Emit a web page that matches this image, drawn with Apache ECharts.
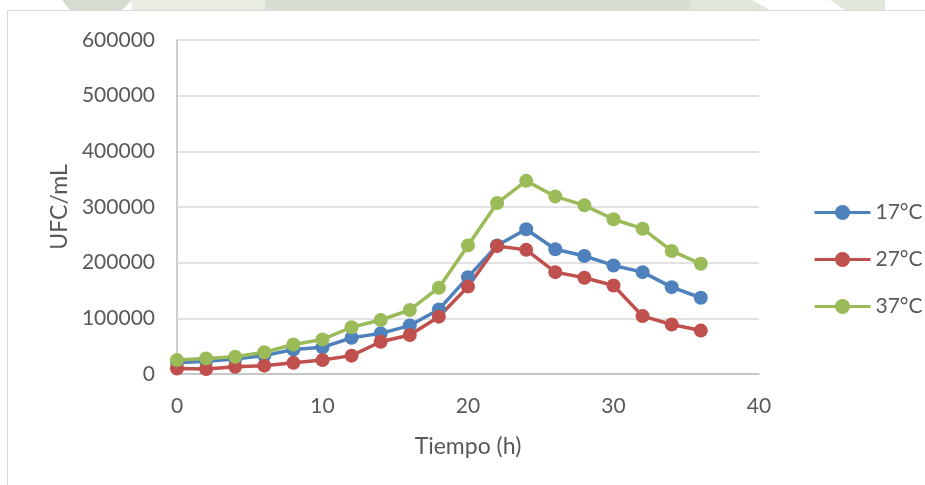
<!DOCTYPE html>
<html>
<head>
<meta charset="utf-8">
<title>UFC/mL vs Tiempo</title>
<script src="https://cdn.jsdelivr.net/npm/echarts@6/dist/echarts.min.js"></script>
<style>
  html, body { margin: 0; padding: 0; background: #ffffff; }
  #chart { width: 925px; height: 485px; }
</style>
</head>
<body>
<div id="chart"></div>
<script>
// Sampling times (h)
const tiempo = [0, 2, 4, 6, 8, 10, 12, 14, 16, 18, 20, 22, 24, 26, 28, 30, 32, 34, 36];

// Counts (UFC/mL) per incubation temperature
const ufc17 = [20000, 23000, 27000, 33000, 44000, 48000, 65000, 73000, 87000, 116000, 174000, 231000, 260000, 224000, 212000, 195000, 183000, 156000, 137000];
const ufc27 = [10000, 9000, 13000, 15000, 20000, 25000, 33000, 58000, 70000, 103000, 157000, 230000, 223000, 183000, 173000, 159000, 104000, 89000, 78000];
const ufc37 = [25000, 28000, 31000, 39000, 53000, 62000, 84000, 97000, 115000, 155000, 231000, 307000, 347000, 319000, 303000, 278000, 261000, 221000, 198000];

const seriesNames = ['17°C', '27°C', '37°C'];
const seriesColors = ['#4F81BD', '#C0504D', '#9BBB59'];
const seriesValues = [ufc17, ufc27, ufc37];

// Axis ranges
const xMin = 0, xMax = 40, xStep = 10;
const yMin = 0, yMax = 600000, yStep = 100000;

const FONT = 'Lato, "Open Sans", sans-serif';
const TEXT = '#595959';

const chart = echarts.init(document.getElementById('chart'), null, { renderer: 'canvas' });

function pairs(xs, ys) {
  return xs.map((x, i) => [x, ys[i]]);
}

const option = {
  backgroundColor: '#ffffff',
  animation: false,
  textStyle: { fontFamily: FONT, color: TEXT },
  graphic: [
    // faint watermark strip above the chart frame
    { type: 'polygon', silent: true, shape: { points: [[62, 0], [132, 0], [122, 10], [70, 10]] }, style: { fill: '#d6dccf' } },
    { type: 'rect', silent: true, shape: { x: 132, y: 0, width: 133, height: 10 }, style: { fill: '#e8ece3' } },
    { type: 'rect', silent: true, shape: { x: 265, y: 0, width: 425, height: 10 }, style: { fill: '#d9ded3' } },
    { type: 'rect', silent: true, shape: { x: 690, y: 0, width: 195, height: 10 }, style: { fill: '#e2e7db' } },
    { type: 'polygon', silent: true, shape: { points: [[752, 0], [830, 0], [845, 10], [770, 10]] }, style: { fill: '#ffffff' } },
    // chart frame (continues past the right and bottom edges)
    { type: 'rect', silent: true, shape: { x: 7.5, y: 10.5, width: 960, height: 520 },
      style: { fill: '#ffffff', stroke: '#D9D9D9', lineWidth: 1 }, z: -1 }
  ],
  grid: {
    left: 177, top: 40, width: 582, height: 334,
    containLabel: false
  },
  legend: {
    orient: 'vertical',
    left: 808,
    top: 197,
    itemWidth: 56,
    itemHeight: 19,
    itemGap: 26,
    data: seriesNames,
    lineStyle: { width: 3 },
    textStyle: { fontFamily: FONT, fontSize: 21, color: TEXT }
  },
  xAxis: {
    type: 'value',
    min: xMin, max: xMax, interval: xStep,
    name: 'Tiempo (h)',
    nameLocation: 'middle',
    nameGap: 61,
    nameTextStyle: { fontFamily: FONT, fontSize: 23, color: TEXT },
    axisLine: { show: true, lineStyle: { color: '#BFBFBF', width: 1.5 } },
    axisTick: { show: false },
    splitLine: { show: false },
    axisLabel: { margin: 22, fontFamily: FONT, fontSize: 21, color: TEXT }
  },
  yAxis: {
    type: 'value',
    min: yMin, max: yMax, interval: yStep,
    name: 'UFC/mL',
    nameLocation: 'middle',
    nameGap: 106,
    nameRotate: 90,
    nameTextStyle: { fontFamily: FONT, fontSize: 23, color: TEXT },
    axisLine: { show: true, onZero: false, lineStyle: { color: '#BFBFBF', width: 1.5 } },
    axisTick: { show: false },
    splitLine: { show: true, lineStyle: { color: '#D9D9D9', width: 1.5 } },
    axisLabel: {
      margin: 22, fontFamily: FONT, fontSize: 21, color: TEXT,
      formatter: v => String(v)
    }
  },
  series: seriesNames.map((name, i) => ({
    name: name,
    type: 'line',
    data: pairs(tiempo, seriesValues[i]),
    symbol: 'circle',
    symbolSize: 14,
    showAllSymbol: true,
    color: seriesColors[i],
    lineStyle: { color: seriesColors[i], width: 3.5 },
    itemStyle: { color: seriesColors[i] },
    emphasis: { disabled: true }
  }))
};

chart.setOption(option);
</script>
</body>
</html>
